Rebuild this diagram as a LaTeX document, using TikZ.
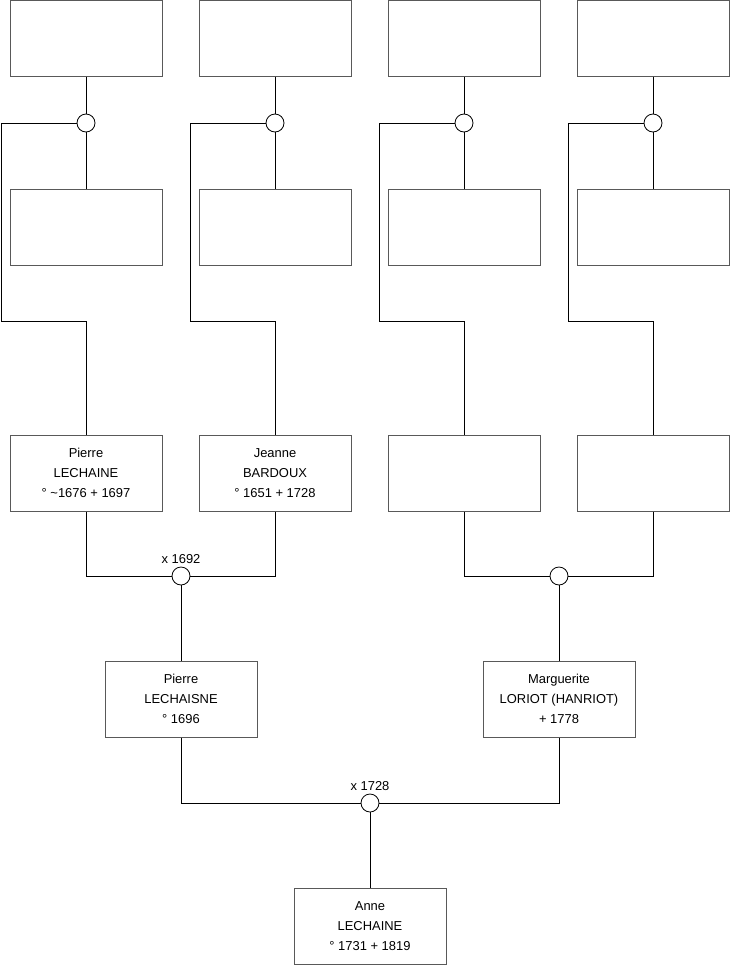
\documentclass[tikz,border=0pt]{standalone}
\usepackage{fontspec}
\setmainfont{Liberation Sans}
\usetikzlibrary{positioning}

\begin{document}
\begin{tikzpicture}[
  x=0.75pt, y=-0.75pt,
  font=\fontsize{9.7}{15}\selectfont,
  person/.style = {draw=black!65, minimum width=114pt, minimum height=57pt,
                   align=center, inner sep=0pt, fill=white, line width=0.75pt},
  union/.style  = {circle, draw, minimum size=13.5pt, inner sep=0pt,
                   fill=white, line width=0.6pt},
  link/.style   = {line width=0.6pt},
]
\useasboundingbox (0,0) rectangle (740,975);

%% Top row
\node[person] (gp1) at (86, 38)  {};
\node[person] (gp2) at (275, 38) {};
\node[person] (gp3) at (464, 38) {};
\node[person] (gp4) at (653, 38) {};

%% Unions of the top couples
\node[union] (u1) at (86, 123)  {};
\node[union] (u2) at (275, 123) {};
\node[union] (u3) at (464, 123) {};
\node[union] (u4) at (653, 123) {};

%% Second row
\node[person] (sp1) at (86, 227)  {};
\node[person] (sp2) at (275, 227) {};
\node[person] (sp3) at (464, 227) {};
\node[person] (sp4) at (653, 227) {};

\draw[link] (gp1.south) -- (u1.north);
\draw[link] (gp2.south) -- (u2.north);
\draw[link] (gp3.south) -- (u3.north);
\draw[link] (gp4.south) -- (u4.north);
\draw[link] (u1.south) -- (sp1.north);
\draw[link] (u2.south) -- (sp2.north);
\draw[link] (u3.south) -- (sp3.north);
\draw[link] (u4.south) -- (sp4.north);

%% Parents
\node[person] (p1) at (86, 473)
     {Pierre\\LECHAINE\\° \textasciitilde1676 + 1697};
\node[person] (p2) at (275, 473)
     {Jeanne\\BARDOUX\\° 1651 + 1728};
\node[person] (p3) at (464, 473) {};
\node[person] (p4) at (653, 473) {};

\coordinate (k1) at (1, 321);
\coordinate (k2) at (190, 321);
\coordinate (k3) at (379, 321);
\coordinate (k4) at (568, 321);
\draw[link] (u1.west) -| (k1) -| (p1.north);
\draw[link] (u2.west) -| (k2) -| (p2.north);
\draw[link] (u3.west) -| (k3) -| (p3.north);
\draw[link] (u4.west) -| (k4) -| (p4.north);

%% Marriages
\node[union, label={[label distance=-1pt]above:x 1692}] (m1) at (181, 576) {};
\node[union] (m2) at (559, 576) {};
\draw[link] (p1.south) |- (m1.west);
\draw[link] (p2.south) |- (m1.east);
\draw[link] (p3.south) |- (m2.west);
\draw[link] (p4.south) |- (m2.east);

%% Children
\node[person] (c1) at (181, 699)
     {Pierre\\LECHAISNE\\° 1696};
\node[person] (c2) at (559, 699)
     {Marguerite\\LORIOT (HANRIOT)\\+ 1778};
\draw[link] (m1.south) -- (c1.north);
\draw[link] (m2.south) -- (c2.north);

\node[union, label={[label distance=-1pt]above:x 1728}] (m3) at (370, 803) {};
\draw[link] (c1.south) |- (m3.west);
\draw[link] (c2.south) |- (m3.east);

%% Bottom
\node[person] (anne) at (370, 926)
     {Anne\\LECHAINE\\° 1731 + 1819};
\draw[link] (m3.south) -- (anne.north);

\end{tikzpicture}
\end{document}
